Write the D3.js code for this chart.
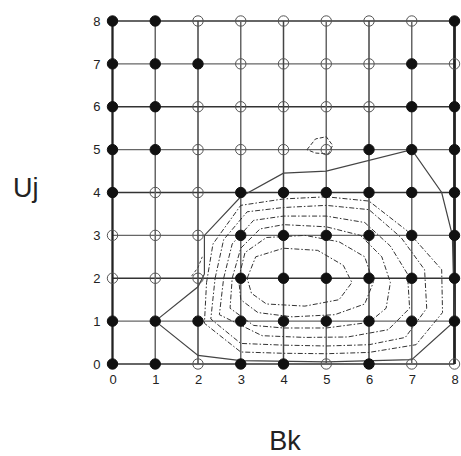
<!DOCTYPE html>
<html>
<head>
<meta charset="utf-8">
<style>
  body { margin: 0; background: #fff; }
  svg text { font-family: "Liberation Sans", Arial, sans-serif; fill: #222; }
  .tick text { font-size: 13px; }
</style>
</head>
<body>
<svg id="chart" width="461" height="456"></svg>
<script src="https://d3js.org/d3.v7.min.js"></script>
<script>
// grid values 0..8 on both axes
var bkValues = [0, 1, 2, 3, 4, 5, 6, 7, 8];
var ujValues = [0, 1, 2, 3, 4, 5, 6, 7, 8];

// 1 = filled circle, 0 = open circle; rows from Uj = 8 down to Uj = 0
var states = [
  [1, 1, 0, 0, 0, 0, 0, 0, 1],
  [1, 1, 1, 0, 0, 0, 0, 1, 0],
  [1, 1, 0, 0, 0, 0, 0, 1, 1],
  [1, 1, 0, 0, 0, 0, 1, 1, 1],
  [1, 0, 0, 1, 1, 1, 1, 1, 1],
  [0, 0, 0, 1, 1, 1, 1, 1, 1],
  [0, 0, 0, 1, 1, 1, 1, 1, 1],
  [1, 1, 1, 1, 1, 1, 1, 1, 1],
  [1, 1, 0, 1, 1, 0, 1, 0, 0]
];

// solid outline of the contoured region, [Bk, Uj]
var outline = [
  [1, 1], [2, 1.8], [2.15, 2.1], [2.15, 3], [3, 3.9], [4, 4.45], [5, 4.5],
  [7, 5], [7.7, 4], [7.95, 3], [8, 1], [7, 0.1], [5, 0.05], [3, 0.08],
  [2, 0.2], [1, 1]
];

// dashed contour loops
var contours = [
  [[2.2, 1.9], [2.35, 2.8], [3, 3.7], [4, 3.85], [5, 3.9], [6, 3.8], [6.9, 3.1], [7.7, 2.2],
   [7.72, 1.2], [7.1, 0.45], [6, 0.27], [5, 0.24], [4, 0.25], [3, 0.28], [2.15, 0.95]],
  [[2.4, 2], [2.6, 2.9], [3.15, 3.55], [4, 3.65], [5, 3.7], [6, 3.6], [6.75, 2.95], [7.3, 2.2],
   [7.35, 1.3], [6.85, 0.62], [6, 0.45], [5, 0.42], [4, 0.44], [3, 0.48], [2.3, 1.05]],
  [[2.6, 2], [2.8, 2.8], [3.3, 3.35], [4, 3.45], [5, 3.45], [5.9, 3.3], [6.5, 2.75], [6.9, 2.1],
   [6.95, 1.3], [6.45, 0.8], [5.5, 0.63], [4.5, 0.62], [3.5, 0.66], [2.5, 1.15]],
  [[2.8, 2], [3, 2.7], [3.45, 3.15], [4, 3.25], [5, 3.2], [5.8, 3.0], [6.3, 2.5], [6.5, 1.9],
   [6.4, 1.3], [6, 0.97], [5, 0.84], [4, 0.84], [3.3, 0.9], [2.75, 1.3]],
  [[2.95, 2], [3.1, 2.6], [3.6, 2.95], [4.5, 3.0], [5.3, 2.85], [5.9, 2.5], [6.1, 1.9],
   [5.9, 1.4], [5.2, 1.15], [4.2, 1.1], [3.4, 1.2], [3.0, 1.5]],
  [[3.15, 2], [3.35, 2.5], [4, 2.7], [4.8, 2.65], [5.4, 2.3], [5.6, 1.9], [5.3, 1.5],
   [4.5, 1.35], [3.6, 1.4], [3.25, 1.65]]
];

// small dashed loop near (5, 5) and a short stray segment
var smallLoop = [[4.55, 5.0], [4.75, 5.25], [5.0, 5.3], [5.15, 5.1], [5.05, 4.9], [4.75, 4.92]];
var stray = [[1.85, 2.05], [2.0, 2.25], [2.1, 2.5]];

var svg = d3.select("#chart");

var x = d3.scaleLinear().domain([0, 8]).range([112.5, 454.5]);
var y = d3.scaleLinear().domain([0, 8]).range([364, 21]);

var line = d3.line()
  .x(function(d) { return x(d[0]); })
  .y(function(d) { return y(d[1]); });

// grid
svg.append("g").selectAll("line.h")
  .data(ujValues).enter().append("line")
    .attr("x1", x(0)).attr("x2", x(8))
    .attr("y1", function(d) { return y(d); })
    .attr("y2", function(d) { return y(d); })
    .attr("stroke", function(d) { return d % 2 == 0 ? "#333" : "#666"; })
    .attr("stroke-width", function(d) { return d % 2 == 0 ? 1.7 : 1.4; });

svg.append("g").selectAll("line.v")
  .data(bkValues).enter().append("line")
    .attr("y1", y(0)).attr("y2", y(8))
    .attr("x1", function(d) { return x(d); })
    .attr("x2", function(d) { return x(d); })
    .attr("stroke", function(d) { return (d == 0 || d == 8) ? "#222" : (d % 2 == 0 ? "#444" : "#666"); })
    .attr("stroke-width", function(d) { return d == 8 ? 2.8 : (d == 0 ? 2.3 : 1.5); });

// dashed contours
svg.append("g").selectAll("path.c")
  .data(contours).enter().append("path")
    .attr("d", function(d) { return line(d) + "Z"; })
    .attr("fill", "none")
    .attr("stroke", "#333")
    .attr("stroke-width", 1)
    .attr("stroke-dasharray", "5,2,1.5,2");

svg.append("path")
  .attr("d", line(smallLoop) + "Z")
  .attr("fill", "none").attr("stroke", "#333")
  .attr("stroke-width", 1).attr("stroke-dasharray", "4,2");

svg.append("path")
  .attr("d", line(stray))
  .attr("fill", "none").attr("stroke", "#444")
  .attr("stroke-width", 1).attr("stroke-dasharray", "3,2");

// solid outline
svg.append("path")
  .attr("d", line(outline))
  .attr("fill", "none")
  .attr("stroke", "#444")
  .attr("stroke-width", 1.2);

// points
var points = [];
states.forEach(function(row, i) {
  row.forEach(function(s, j) {
    points.push({ bk: bkValues[j], uj: ujValues[8 - i], filled: s });
  });
});

svg.append("g").selectAll("circle")
  .data(points).enter().append("circle")
    .attr("cx", function(d) { return x(d.bk); })
    .attr("cy", function(d) { return y(d.uj); })
    .attr("r", 5.2)
    .attr("fill", function(d) { return d.filled ? "#111" : "none"; })
    .attr("stroke", function(d) { return d.filled ? "#111" : "#555"; })
    .attr("stroke-width", 1);

// axes (labels only)
var xAxis = svg.append("g")
  .attr("transform", "translate(0," + y(0) + ")")
  .call(d3.axisBottom(x).tickValues(bkValues).tickSize(0).tickPadding(11).tickFormat(d3.format("d")));
xAxis.select(".domain").remove();

var yAxis = svg.append("g")
  .attr("transform", "translate(" + x(0) + ",0)")
  .call(d3.axisLeft(y).tickValues(ujValues).tickSize(0).tickPadding(12).tickFormat(d3.format("d")));
yAxis.select(".domain").remove();

svg.selectAll(".tick text").attr("fill", "#222").style("font-family", "'Liberation Sans', Arial, sans-serif");

svg.append("text")
  .attr("x", 13).attr("y", 197)
  .attr("font-size", 27)
  .text("Uj");

svg.append("text")
  .attr("x", 285).attr("y", 450)
  .attr("text-anchor", "middle")
  .attr("font-size", 27)
  .text("Bk");
</script>
</body>
</html>
